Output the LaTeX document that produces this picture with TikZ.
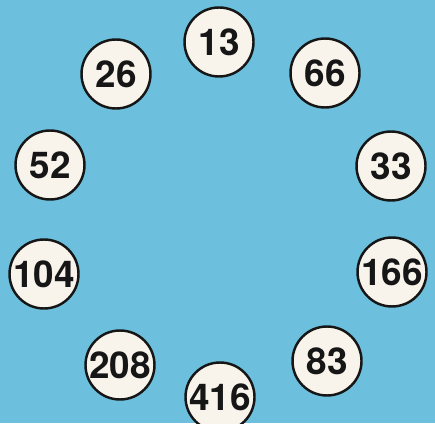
\documentclass[tikz,border=0pt]{standalone}
\usepackage{fontspec}
\setmainfont{TeX Gyre Heros}
\usepackage{tikz}
\definecolor{skyblue}{RGB}{108,192,222}
\definecolor{cream}{RGB}{248,244,236}
\definecolor{inkdark}{RGB}{22,22,22}
\tikzset{
  ball/.style={circle, draw=inkdark, fill=cream, line width=1.4pt,
    minimum size=1.38cm, inner sep=0pt, text=inkdark,
    font=\fontsize{21}{21}\selectfont\bfseries}
}
\begin{document}
\begin{tikzpicture}
  % background
  \clip (0,0) rectangle (8.7,8.46);
  \fill[skyblue] (0,0) rectangle (8.7,8.46);

  % top
  \node[ball] (n13) at (4.38, 7.62) {13};
  \node[ball] (n26) at (2.32, 6.98) {26};
  \node[ball] (n66) at (6.50, 7.00) {66};

  % sides
  \node[ball] (n52) at (1.00, 5.16) {52};
  \node[ball] (n33) at (7.82, 5.14) {33};
  \node[ball] (n104) at (0.88, 2.98) {104};
  \node[ball] (n166) at (7.84, 3.02) {166};

  % bottom
  \node[ball] (n208) at (2.40, 1.16) {208};
  \node[ball] (n83) at (6.54, 1.24) {83};
  \node[ball] (n416) at (4.40, 0.52) {416};
\end{tikzpicture}
\end{document}
